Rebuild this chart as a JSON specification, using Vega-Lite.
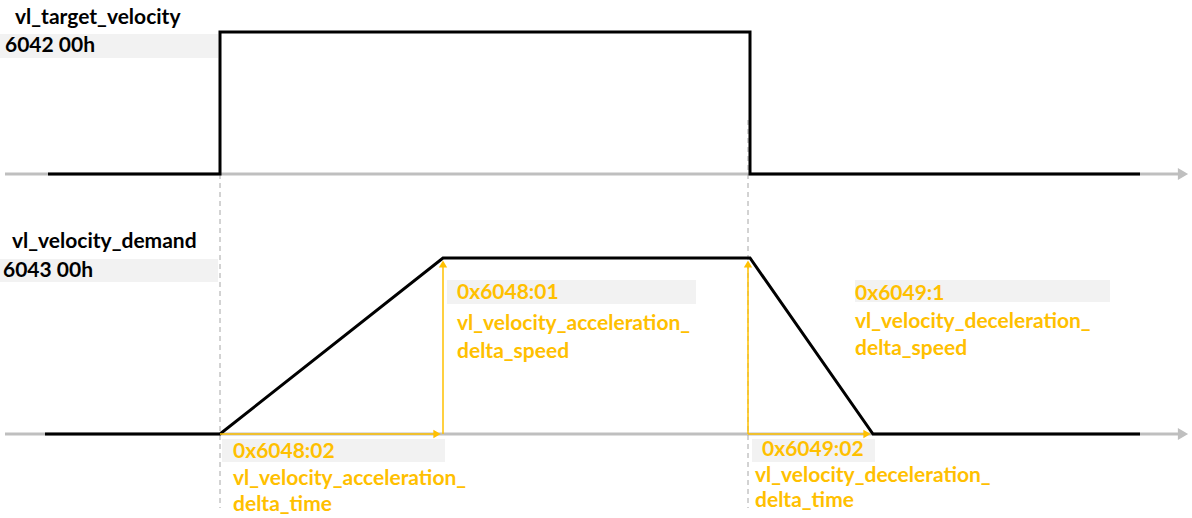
{
  "$schema": "https://vega.github.io/schema/vega-lite/v6.json",
  "width": 1192,
  "height": 518,
  "autosize": {"type": "fit", "contains": "padding"},
  "padding": 0,
  "background": "white",
  "config": {"view": {"stroke": null}},
  "encoding": {
    "x": {"type": "quantitative", "scale": {"domain": [0, 1192], "nice": false, "zero": false}, "axis": null},
    "y": {"type": "quantitative", "scale": {"domain": [0, 518], "nice": false, "zero": false, "reverse": true}, "axis": null}
  },
  "layer": [
    {
      "data": {"values": [
        {"x0": 0, "x1": 218, "y0": 34, "y1": 58},
        {"x0": 0, "x1": 218, "y0": 259, "y1": 282},
        {"x0": 447, "x1": 696, "y0": 280, "y1": 304},
        {"x0": 855, "x1": 1110, "y0": 280, "y1": 302},
        {"x0": 222, "x1": 445, "y0": 439, "y1": 462},
        {"x0": 752, "x1": 875, "y0": 439, "y1": 462}
      ]},
      "mark": {"type": "rect", "color": "#F2F2F2"},
      "encoding": {"x": {"field": "x0", "type": "quantitative"}, "x2": {"field": "x1"}, "y": {"field": "y0", "type": "quantitative"}, "y2": {"field": "y1"}}
    },
    {
      "data": {"values": [
        {"x0": 5, "x1": 1180, "y": 174},
        {"x0": 5, "x1": 1180, "y": 434}
      ]},
      "mark": {"type": "rule", "color": "#BFBFBF", "strokeWidth": 3},
      "encoding": {"x": {"field": "x0", "type": "quantitative"}, "x2": {"field": "x1"}, "y": {"field": "y", "type": "quantitative"}}
    },
    {
      "data": {"values": [
        {"x": 1183, "y": 174},
        {"x": 1183, "y": 434}
      ]},
      "mark": {"type": "point", "shape": "triangle-right", "filled": true, "color": "#BFBFBF", "opacity": 1, "size": 140},
      "encoding": {"x": {"field": "x", "type": "quantitative"}, "y": {"field": "y", "type": "quantitative"}}
    },
    {
      "data": {"values": [
        {"x": 220, "y0": 174, "y1": 508},
        {"x": 748, "y0": 120, "y1": 508}
      ]},
      "mark": {"type": "rule", "color": "#A6A6A6", "strokeWidth": 1, "strokeDash": [5, 4]},
      "encoding": {"x": {"field": "x", "type": "quantitative"}, "y": {"field": "y0", "type": "quantitative"}, "y2": {"field": "y1"}}
    },
    {
      "data": {"values": [
        {"s": "target", "o": 1, "x": 48, "y": 174},
        {"s": "target", "o": 2, "x": 220, "y": 174},
        {"s": "target", "o": 3, "x": 220, "y": 32},
        {"s": "target", "o": 4, "x": 750, "y": 32},
        {"s": "target", "o": 5, "x": 750, "y": 174},
        {"s": "target", "o": 6, "x": 1140, "y": 174},
        {"s": "demand", "o": 1, "x": 45, "y": 434},
        {"s": "demand", "o": 2, "x": 220, "y": 434},
        {"s": "demand", "o": 3, "x": 443, "y": 258},
        {"s": "demand", "o": 4, "x": 750, "y": 258},
        {"s": "demand", "o": 5, "x": 873, "y": 434},
        {"s": "demand", "o": 6, "x": 1140, "y": 434}
      ]},
      "mark": {"type": "line", "color": "black", "strokeWidth": 3, "strokeJoin": "miter"},
      "encoding": {"x": {"field": "x", "type": "quantitative"}, "y": {"field": "y", "type": "quantitative"}, "detail": {"field": "s"}, "order": {"field": "o"}}
    },
    {
      "data": {"values": [
        {"x0": 443, "x1": 443, "y0": 434, "y1": 264},
        {"x0": 748, "x1": 748, "y0": 434, "y1": 264},
        {"x0": 220, "x1": 436, "y0": 434, "y1": 434},
        {"x0": 748, "x1": 866, "y0": 434, "y1": 434}
      ]},
      "mark": {"type": "rule", "color": "#FFC000", "strokeWidth": 1.5},
      "encoding": {"x": {"field": "x0", "type": "quantitative"}, "x2": {"field": "x1"}, "y": {"field": "y0", "type": "quantitative"}, "y2": {"field": "y1"}}
    },
    {
      "data": {"values": [
        {"x": 443, "y": 264},
        {"x": 748, "y": 264}
      ]},
      "mark": {"type": "point", "shape": "triangle-up", "filled": true, "color": "#FFC000", "opacity": 1, "size": 70},
      "encoding": {"x": {"field": "x", "type": "quantitative"}, "y": {"field": "y", "type": "quantitative"}}
    },
    {
      "data": {"values": [
        {"x": 437, "y": 434},
        {"x": 867, "y": 434}
      ]},
      "mark": {"type": "point", "shape": "triangle-right", "filled": true, "color": "#FFC000", "opacity": 1, "size": 70},
      "encoding": {"x": {"field": "x", "type": "quantitative"}, "y": {"field": "y", "type": "quantitative"}}
    },
    {
      "data": {"values": [
        {"x": 15, "y": 18, "t": "vl_target_velocity"},
        {"x": 5, "y": 46, "t": "6042 00h"},
        {"x": 12, "y": 242, "t": "vl_velocity_demand"},
        {"x": 3, "y": 271, "t": "6043 00h"}
      ]},
      "mark": {"type": "text", "color": "black", "font": "Lato", "fontWeight": "bold", "fontSize": 21, "align": "left", "baseline": "middle"},
      "encoding": {"x": {"field": "x", "type": "quantitative"}, "y": {"field": "y", "type": "quantitative"}, "text": {"field": "t"}}
    },
    {
      "data": {"values": [
        {"x": 457, "y": 293, "t": "0x6048:01"},
        {"x": 457, "y": 324, "t": "vl_velocity_acceleration_"},
        {"x": 457, "y": 352, "t": "delta_speed"},
        {"x": 855, "y": 294, "t": "0x6049:1"},
        {"x": 855, "y": 322, "t": "vl_velocity_deceleration_"},
        {"x": 855, "y": 349, "t": "delta_speed"},
        {"x": 233, "y": 452, "t": "0x6048:02"},
        {"x": 233, "y": 479, "t": "vl_velocity_acceleration_"},
        {"x": 233, "y": 505, "t": "delta_time"},
        {"x": 762, "y": 450, "t": "0x6049:02"},
        {"x": 755, "y": 476, "t": "vl_velocity_deceleration_"},
        {"x": 755, "y": 501, "t": "delta_time"}
      ]},
      "mark": {"type": "text", "color": "#FFC000", "font": "Lato", "fontWeight": "bold", "fontSize": 21, "align": "left", "baseline": "middle"},
      "encoding": {"x": {"field": "x", "type": "quantitative"}, "y": {"field": "y", "type": "quantitative"}, "text": {"field": "t"}}
    }
  ]
}
